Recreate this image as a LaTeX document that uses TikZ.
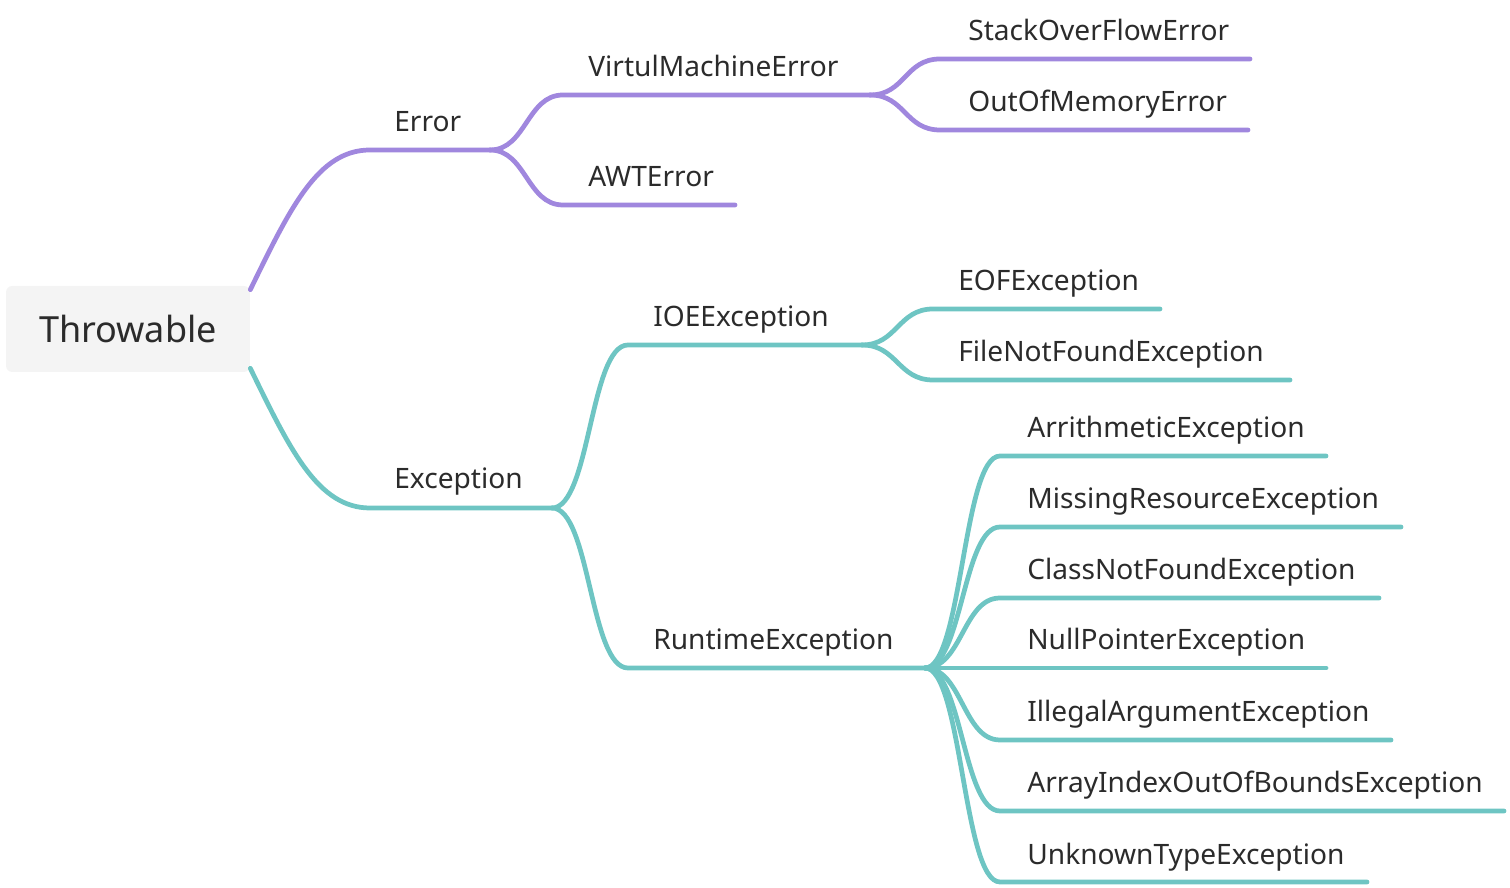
\documentclass[tikz,border=0pt]{standalone}
\usepackage{fontspec}
\setmainfont{Noto Sans}
\definecolor{errcol}{HTML}{A087DE}
\definecolor{exccol}{HTML}{6EC5C3}
\definecolor{txtcol}{HTML}{2B2B2B}
\definecolor{rootfill}{HTML}{F4F4F4}
\tikzset{
  branch/.style={line width=2.7pt, line cap=round},
  errline/.style={branch, draw=errcol},
  excline/.style={branch, draw=exccol},
  lbl/.style={anchor=base west, inner sep=0pt, text=txtcol},
  rootbox/.style={fill=rootfill, rounded corners=3.5pt, minimum width=4.88cm, minimum height=1.72cm, text=txtcol, font=\fontsize{20.5}{25}\selectfont},
}

\begin{document}
\begin{tikzpicture}[x=0.02cm, y=0.02cm, font=\fontsize{16}{19}\selectfont]
    \useasboundingbox (0,0) rectangle (1510,888);
    \node[rootbox] (root) at (128,559) {Throwable};
    % Error side
    \coordinate (err0) at (370,738); \coordinate (err1) at (490,738);
    \coordinate (vme0) at (563,793); \coordinate (vme1) at (870,793);
    \coordinate (awt0) at (563,683); \coordinate (awt1) at (735,683);
    \coordinate (sof0) at (940,829); \coordinate (sof1) at (1250,829);
    \coordinate (oom0) at (940,758); \coordinate (oom1) at (1248,758);
    % Exception side
    \coordinate (exc0) at (370,380); \coordinate (exc1) at (552,380);
    \coordinate (ioe0) at (628,543); \coordinate (ioe1) at (862,543);
    \coordinate (rte0) at (628,220); \coordinate (rte1) at (925,220);
    \coordinate (eof0) at (933,579); \coordinate (eof1) at (1160,579);
    \coordinate (fnf0) at (933,508); \coordinate (fnf1) at (1290,508);
    \coordinate (ari0) at (1000,432); \coordinate (ari1) at (1326,432);
    \coordinate (mis0) at (1000,361); \coordinate (mis1) at (1401,361);
    \coordinate (cnf0) at (1000,290); \coordinate (cnf1) at (1379,290);
    \coordinate (npe0) at (1000,220); \coordinate (npe1) at (1326,220);
    \coordinate (iae0) at (1000,148); \coordinate (iae1) at (1391,148);
    \coordinate (aio0) at (1000,77);  \coordinate (aio1) at (1504,77);
    \coordinate (ute0) at (1000,6);   \coordinate (ute1) at (1367,6);

    \draw[errline] ([yshift=-0.08cm]root.north east) .. controls +(40,82) and +(-52,0) .. (err0) -- (err1);
    \draw[errline] (err1) .. controls +(36,0) and +(-36,0) .. (vme0) -- (vme1);
    \draw[errline] (err1) .. controls +(36,0) and +(-36,0) .. (awt0) -- (awt1);
    \draw[errline] (vme1) .. controls +(35,0) and +(-35,0) .. (sof0) -- (sof1);
    \draw[errline] (vme1) .. controls +(35,0) and +(-35,0) .. (oom0) -- (oom1);

    \draw[excline] ([yshift=0.08cm]root.south east) .. controls +(40,-82) and +(-52,0) .. (exc0) -- (exc1);
    \draw[excline] (exc1) .. controls +(38,0) and +(-38,0) .. (ioe0) -- (ioe1);
    \draw[excline] (exc1) .. controls +(38,0) and +(-38,0) .. (rte0) -- (rte1);
    \draw[excline] (ioe1) .. controls +(35,0) and +(-35,0) .. (eof0) -- (eof1);
    \draw[excline] (ioe1) .. controls +(35,0) and +(-35,0) .. (fnf0) -- (fnf1);
    \draw[excline] (rte1) .. controls +(37,0) and +(-37,0) .. (ari0) -- (ari1);
    \draw[excline] (rte1) .. controls +(37,0) and +(-37,0) .. (mis0) -- (mis1);
    \draw[excline] (rte1) .. controls +(37,0) and +(-37,0) .. (cnf0) -- (cnf1);
    \draw[excline] (rte1) -- (npe0) -- (npe1);
    \draw[excline] (rte1) .. controls +(37,0) and +(-37,0) .. (iae0) -- (iae1);
    \draw[excline] (rte1) .. controls +(37,0) and +(-37,0) .. (aio0) -- (aio1);
    \draw[excline] (rte1) .. controls +(37,0) and +(-37,0) .. (ute0) -- (ute1);

    \node[lbl] (err) at ([xshift=0.48cm, yshift=0.36cm]err0) {Error};
    \node[lbl] (vme) at ([xshift=0.50cm, yshift=0.36cm]vme0) {VirtulMachineError};
    \node[lbl] (awt) at ([xshift=0.50cm, yshift=0.36cm]awt0) {AWTError};
    \node[lbl] (sof) at ([xshift=0.56cm, yshift=0.36cm]sof0) {StackOverFlowError};
    \node[lbl] (oom) at ([xshift=0.56cm, yshift=0.36cm]oom0) {OutOfMemoryError};
    \node[lbl] (exc) at ([xshift=0.48cm, yshift=0.38cm]exc0) {Exception};
    \node[lbl] (ioe) at ([xshift=0.50cm, yshift=0.36cm]ioe0) {IOEException};
    \node[lbl] (rte) at ([xshift=0.50cm, yshift=0.36cm]rte0) {RuntimeException};
    \node[lbl] (eof) at ([xshift=0.50cm, yshift=0.36cm]eof0) {EOFException};
    \node[lbl] (fnf) at ([xshift=0.50cm, yshift=0.36cm]fnf0) {FileNotFoundException};
    \node[lbl] (ari) at ([xshift=0.54cm, yshift=0.36cm]ari0) {ArrithmeticException};
    \node[lbl] (mis) at ([xshift=0.54cm, yshift=0.36cm]mis0) {MissingResourceException};
    \node[lbl] (cnf) at ([xshift=0.54cm, yshift=0.36cm]cnf0) {ClassNotFoundException};
    \node[lbl] (npe) at ([xshift=0.54cm, yshift=0.36cm]npe0) {NullPointerException};
    \node[lbl] (iae) at ([xshift=0.54cm, yshift=0.36cm]iae0) {IllegalArgumentException};
    \node[lbl] (aio) at ([xshift=0.54cm, yshift=0.36cm]aio0) {ArrayIndexOutOfBoundsException};
    \node[lbl] (ute) at ([xshift=0.54cm, yshift=0.36cm]ute0) {UnknownTypeException};
\end{tikzpicture}
\end{document}
